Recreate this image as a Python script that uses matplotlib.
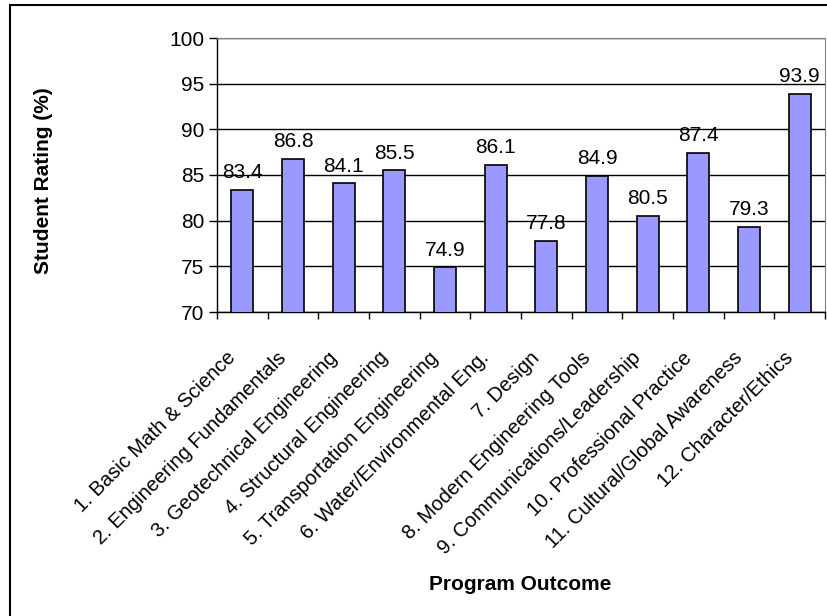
import matplotlib.pyplot as plt
from matplotlib.patches import Rectangle
import numpy as np

plt.rcParams['font.family'] = ['Liberation Sans', 'DejaVu Sans']

# program outcomes and average student rating for each
outcomes = ["1. Basic Math & Science",
            "2. Engineering Fundamentals",
            "3. Geotechnical Engineering",
            "4. Structural Engineering",
            "5. Transportation Engineering",
            "6. Water/Environmental Eng.",
            "7. Design",
            "8. Modern Engineering Tools",
            "9. Communications/Leadership",
            "10. Professional Practice",
            "11. Cultural/Global Awareness",
            "12. Character/Ethics"]
rating = [83.4, 86.8, 84.1, 85.5, 74.9, 86.1, 77.8, 84.9, 80.5, 87.4, 79.3, 93.9]

fig = plt.figure(figsize=(8.27, 6.16), dpi=100)
ax = fig.add_axes([217/827, 1-312/616, 608/827, 274/616])

x = np.arange(len(rating))
ax.bar(x, rating, width=0.44, bottom=0, color='#9999FF', edgecolor='black', linewidth=1.2, zorder=3)

for xi, v in zip(x, rating):
    ax.annotate(str(v), (xi, v), xytext=(0, 5.5), textcoords='offset points',
                ha='center', va='bottom', fontsize=15, zorder=4)

ax.set_ylim(70, 100)
ax.set_xlim(-0.5, len(rating)-0.5)
ax.set_yticks(range(70, 101, 5))
ax.tick_params(axis='y', labelsize=15, length=6, width=1, direction='out', pad=3)
ax.yaxis.grid(True, color='black', linewidth=1, zorder=0)

# category ticks sit between bars, labels under bar centres
ax.set_xticks(np.arange(len(rating)+1) - 0.5)
ax.set_xticklabels([])
ax.tick_params(axis='x', length=5, width=1, direction='out')
for xi, name in zip(x, outcomes):
    ax.annotate(name, (xi, 70), xytext=(-2, -26), textcoords='offset points',
                ha='right', va='top', rotation=45, fontsize=14.5, annotation_clip=False)

for side in ['top', 'right']:
    ax.spines[side].set_color('#808080')
ax.spines['left'].set_linewidth(1)
ax.spines['bottom'].set_linewidth(1)

fig.text(43.5/827, 1-181/616, 'Student Rating (%)', rotation=90, ha='center', va='center',
         fontsize=15, fontweight='bold')
fig.text(520/827, 1-585/616, 'Program Outcome', ha='center', va='center',
         fontsize=15, fontweight='bold')

fig.patches.append(Rectangle((10/827, -0.05), 1.1, 1-5/616+0.05, transform=fig.transFigure,
                             fill=False, edgecolor='black', linewidth=1.5))

fig.savefig('out.png', dpi=100)
